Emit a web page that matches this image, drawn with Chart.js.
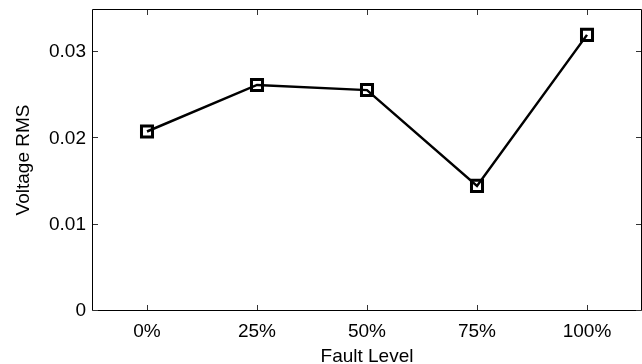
<!DOCTYPE html>
<html>
<head>
<meta charset="utf-8">
<script src="https://cdn.jsdelivr.net/npm/chart.js@4/dist/chart.umd.min.js"></script>
<style>
  html, body { margin: 0; padding: 0; background: #fff; }
  #wrap { width: 642px; height: 364px; }
</style>
</head>
<body>
<div id="wrap"><canvas id="rmsChart" width="642" height="364"></canvas></div>
<script>
// ---- data ----
const faultLevels  = ['0%', '25%', '50%', '75%', '100%'];
const voltageRms   = [0.0208, 0.0262, 0.0256, 0.0145, 0.0320];
const yTickValues  = [0, 0.01, 0.02, 0.03];
const yTickLabels  = ['0', '0.01', '0.02', '0.03'];

const FONT = 'Liberation Sans, Arial, Helvetica, sans-serif';
Chart.defaults.color = '#000';
Chart.defaults.font.family = FONT;

// no extra room for overflowing tick labels, the box is fixed
function noPad(scale) {
  scale.paddingTop = 0;
  scale.paddingBottom = 0;
  scale.paddingLeft = 0;
  scale.paddingRight = 0;
}

// MATLAB-like box with inward ticks on all four sides
const matlabBox = {
  id: 'matlabBox',
  beforeDatasetsDraw(chart) {
    const { ctx, chartArea: a, scales: { x, y } } = chart;
    const len = 5;
    ctx.save();
    ctx.strokeStyle = '#000';
    ctx.lineWidth = 1;
    ctx.beginPath();
    ctx.rect(a.left + 0.5, a.top + 0.5, a.right - a.left - 1, a.bottom - a.top - 1);
    ctx.stroke();
    ctx.strokeStyle = '#333';
    ctx.beginPath();
    x.ticks.forEach((t, i) => {
      const px = Math.round(x.getPixelForTick(i)) + 0.5;
      ctx.moveTo(px, a.bottom - 1); ctx.lineTo(px, a.bottom - 1 - len);
      ctx.moveTo(px, a.top + 1);    ctx.lineTo(px, a.top + 1 + len);
    });
    yTickValues.forEach((v) => {
      const py = Math.round(y.getPixelForValue(v)) - 0.5;
      ctx.moveTo(a.left + 1, py);  ctx.lineTo(a.left + 1 + len, py);
      ctx.moveTo(a.right - 1, py); ctx.lineTo(a.right - 1 - len, py);
    });
    ctx.stroke();
    ctx.restore();
  }
};

new Chart(document.getElementById('rmsChart').getContext('2d'), {
  type: 'line',
  data: {
    labels: faultLevels,
    datasets: [{
      label: 'Voltage RMS',
      data: voltageRms,
      borderColor: '#000',
      borderWidth: 2.5,
      pointStyle: 'rect',
      pointRadius: 7.8,
      pointBorderWidth: 3,
      pointBorderColor: '#000',
      pointBackgroundColor: 'rgba(0,0,0,0)',
      tension: 0,
      fill: false,
      clip: false
    }]
  },
  options: {
    responsive: false,
    animation: false,
    // the right edge of the axes box falls just outside the picture
    layout: { autoPadding: false, padding: { top: 9, right: -1, bottom: 0, left: 0 } },
    plugins: {
      legend: { display: false },
      tooltip: { enabled: false }
    },
    scales: {
      x: {
        type: 'category',
        offset: true,
        grid: { display: false, drawTicks: false },
        border: { display: false },
        ticks: { font: { size: 19 }, padding: 9, maxRotation: 0 },
        title: {
          display: true,
          text: 'Fault Level',
          font: { size: 19, lineHeight: 0.75 },
          padding: 0
        },
        afterFit(scale) { scale.height = 53; noPad(scale); }
      },
      y: {
        min: 0,
        max: 0.035,
        grid: { display: false, drawTicks: false },
        border: { display: false },
        afterBuildTicks(scale) {
          scale.ticks = yTickValues.map((v) => ({ value: v }));
        },
        ticks: {
          font: { size: 19 },
          padding: 6,
          callback: (value) => yTickLabels[yTickValues.indexOf(value)]
        },
        title: {
          display: true,
          text: 'Voltage RMS',
          font: { size: 19 },
          padding: { top: 12, bottom: 0 }
        },
        afterFit(scale) { scale.width = 92; noPad(scale); }
      }
    }
  },
  plugins: [matlabBox]
});
</script>
</body>
</html>
